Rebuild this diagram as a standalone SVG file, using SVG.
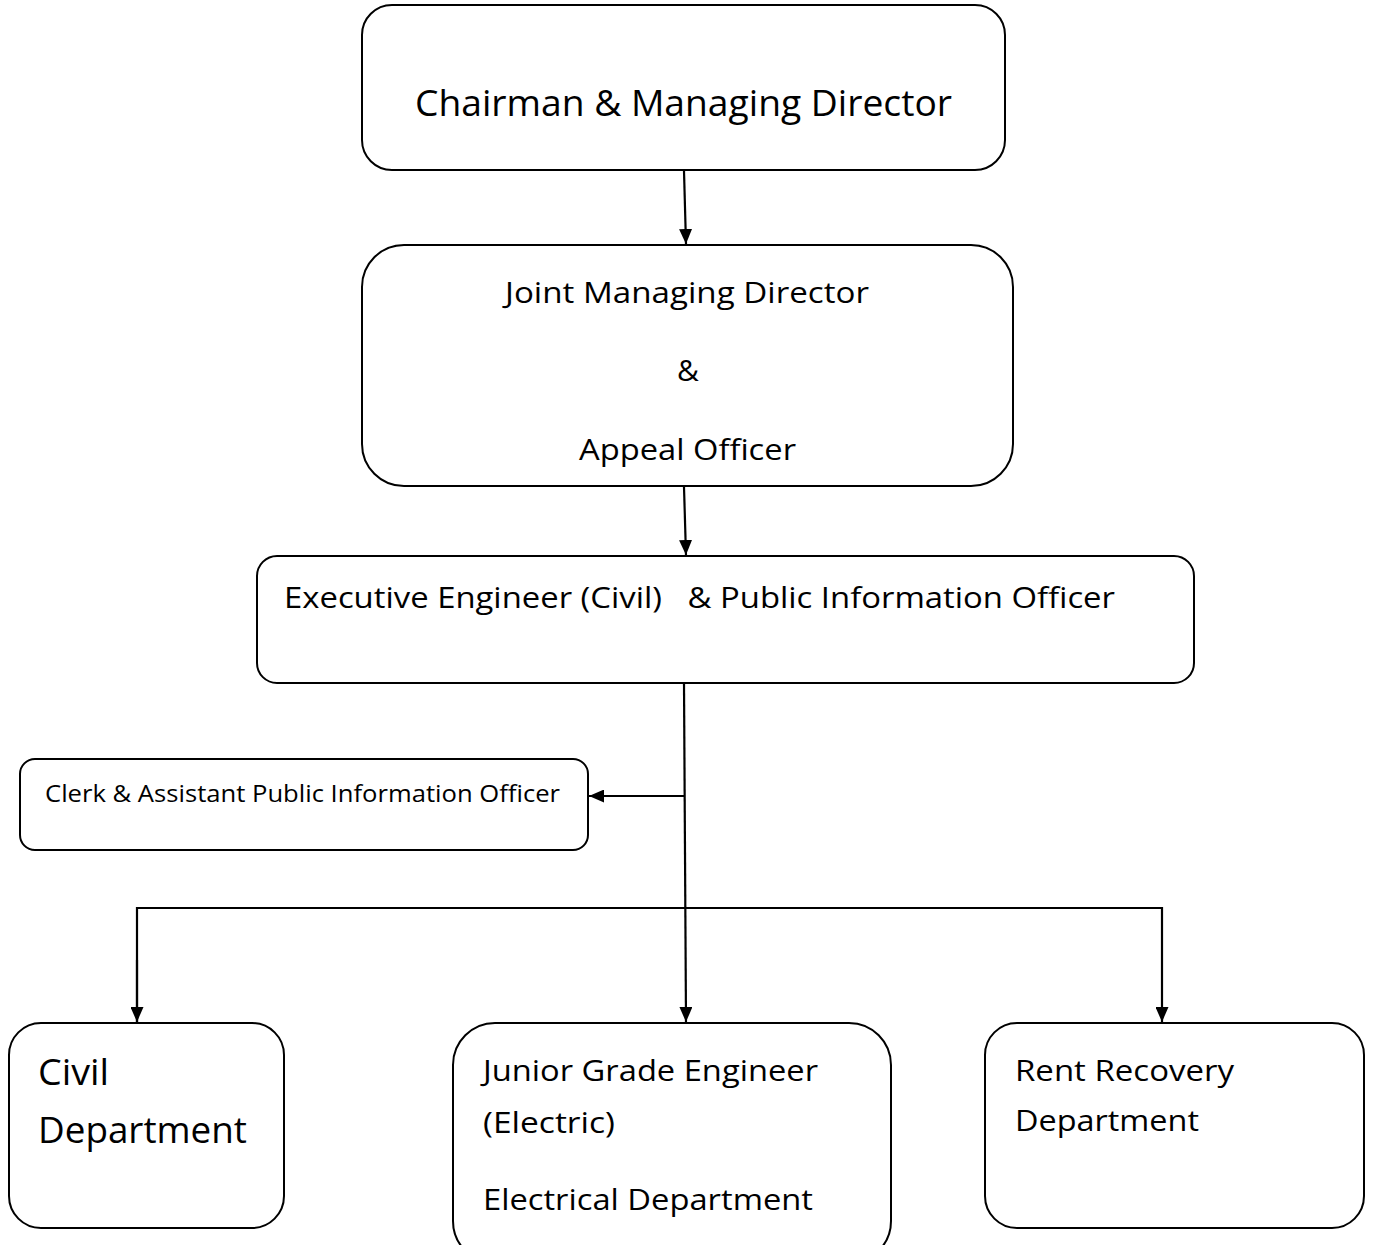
<svg xmlns="http://www.w3.org/2000/svg" width="1375" height="1245" viewBox="0 0 1375 1245">
<style>
.box{fill:#fff;stroke:#000;stroke-width:2}
.t{font-family:"Open Sans","Noto Sans","Liberation Sans",sans-serif;fill:#000}
.c{stroke:#000;stroke-width:2.2;fill:none}
</style>
<defs>
<marker id="ah2" viewBox="0 0 10 10" refX="10" refY="5" markerWidth="15" markerHeight="13" markerUnits="userSpaceOnUse" orient="auto" preserveAspectRatio="none">
<path d="M0,0 L10,5 L0,10 z" fill="#000"/>
</marker>
</defs>
<rect width="1375" height="1245" fill="#fff"/>
<g id="connectors">
<line class="c" x1="684" y1="171" x2="686" y2="244" marker-end="url(#ah2)"/>
<line class="c" x1="684" y1="487" x2="686" y2="555" marker-end="url(#ah2)"/>
<line class="c" x1="684" y1="684" x2="686" y2="1022" marker-end="url(#ah2)"/>
<line class="c" x1="685" y1="796" x2="589" y2="796" marker-end="url(#ah2)"/>
<polyline class="c" points="137,1022 137,908 1162,908 1162,1022" marker-end="url(#ah2)"/>
<line class="c" x1="137" y1="960" x2="137" y2="1022" marker-end="url(#ah2)"/>
</g>
<g id="n1">
<rect class="box" x="362" y="5" width="643" height="165" rx="30"/>
<text class="t" x="415" y="116" font-size="37" textLength="537" lengthAdjust="spacingAndGlyphs">Chairman &amp; Managing Director</text>
</g>
<g id="n2">
<rect class="box" x="362" y="245" width="651" height="241" rx="42"/>
<text class="t" x="505" y="303" font-size="30" textLength="364" lengthAdjust="spacingAndGlyphs">Joint Managing Director</text>
<text class="t" x="688" y="381" font-size="30" text-anchor="middle">&amp;</text>
<text class="t" x="579" y="460" font-size="30" textLength="217" lengthAdjust="spacingAndGlyphs">Appeal Officer</text>
</g>
<g id="n3">
<rect class="box" x="257" y="556" width="937" height="127" rx="20"/>
<text class="t" x="284" y="608" font-size="30" textLength="831" lengthAdjust="spacingAndGlyphs" xml:space="preserve">Executive Engineer (Civil)   &amp; Public Information Officer</text>
</g>
<g id="n4">
<rect class="box" x="20" y="759" width="568" height="91" rx="15"/>
<text class="t" x="45" y="802" font-size="23" textLength="515" lengthAdjust="spacingAndGlyphs">Clerk &amp; Assistant Public Information Officer</text>
</g>
<g id="n5">
<rect class="box" x="9" y="1023" width="275" height="205" rx="32"/>
<text class="t" x="38" y="1085" font-size="36" textLength="71" lengthAdjust="spacingAndGlyphs">Civil</text>
<text class="t" x="38" y="1143" font-size="36" textLength="209" lengthAdjust="spacingAndGlyphs">Department</text>
</g>
<g id="n6">
<rect class="box" x="453" y="1023" width="438" height="240" rx="42"/>
<text class="t" x="483" y="1081" font-size="30" textLength="335" lengthAdjust="spacingAndGlyphs">Junior Grade Engineer</text>
<text class="t" x="483" y="1133" font-size="30" textLength="132" lengthAdjust="spacingAndGlyphs">(Electric)</text>
<text class="t" x="483" y="1210" font-size="30" textLength="330" lengthAdjust="spacingAndGlyphs">Electrical Department</text>
</g>
<g id="n7">
<rect class="box" x="985" y="1023" width="379" height="205" rx="32"/>
<text class="t" x="1015" y="1081" font-size="30" textLength="219" lengthAdjust="spacingAndGlyphs">Rent Recovery</text>
<text class="t" x="1015" y="1131" font-size="30" textLength="184" lengthAdjust="spacingAndGlyphs">Department</text>
</g>
</svg>
